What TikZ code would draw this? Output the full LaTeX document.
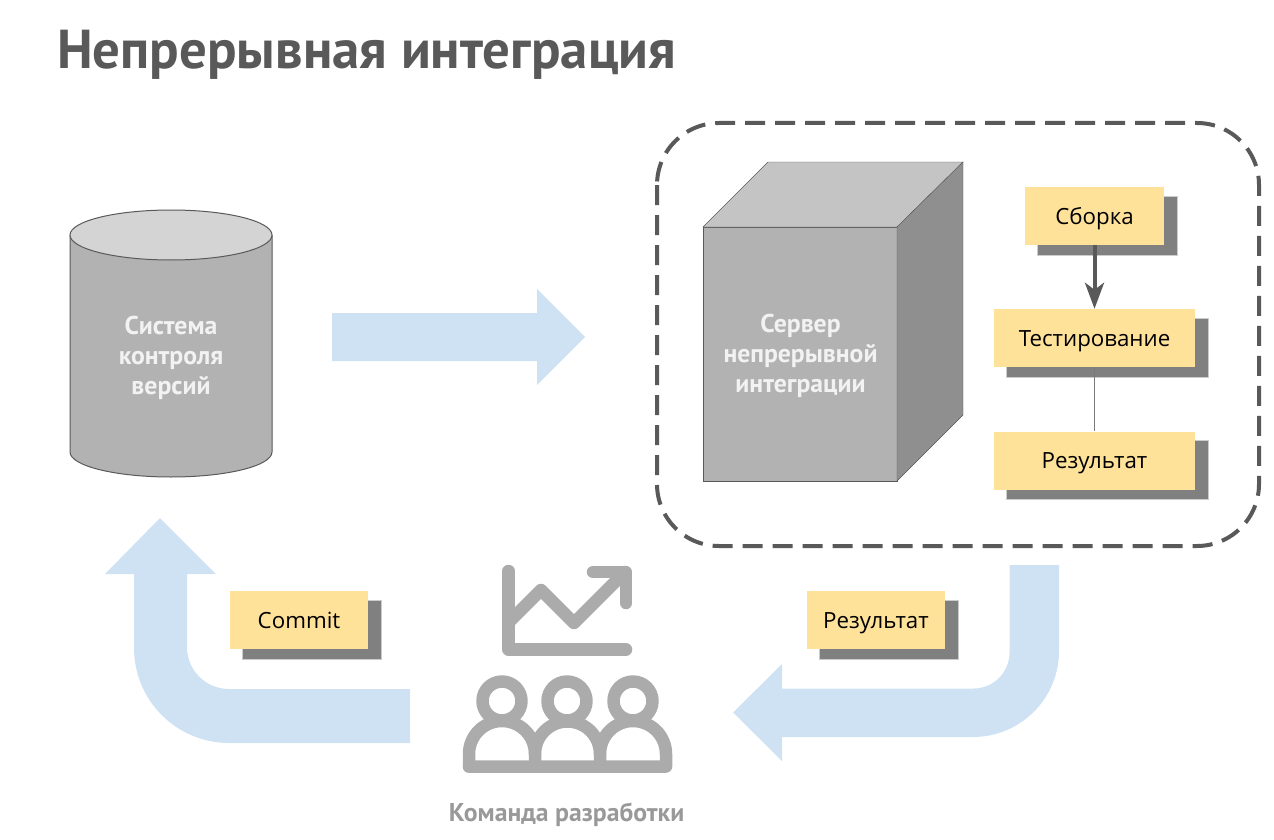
\documentclass[tikz,border=0pt]{standalone}
\usepackage{fontspec}
\setmainfont{Open Sans}
\newfontfamily\headfont{PT Sans}
\usepackage{xcolor}
\usetikzlibrary{arrows.meta, shadows}

\definecolor{edgegray}{HTML}{595959}
\definecolor{flowblue}{HTML}{CFE2F3}
\definecolor{notefill}{HTML}{FFE299}
\definecolor{icongray}{HTML}{ABABAB}
\definecolor{shadowgray}{HTML}{808080}

\tikzset{
  note/.style={fill=notefill, inner sep=0pt, minimum height=58pt,
    text height=18pt, text depth=2pt,
    font=\fontsize{22.3}{26}\selectfont,
    general shadow={shadow xshift=13pt, shadow yshift=-9.5pt, fill=shadowgray,
      draw=shadowgray, draw opacity=.4, line width=2pt}},
  flow/.style={fill=flowblue},
  shapelabel/.style={font=\fontsize{25.7}{30}\selectfont\headfont\bfseries, text=white!95!black, align=center},
  icon/.style={draw=icongray, line width=12.5pt, line cap=round, line join=round}
}

\begin{document}
\begin{tikzpicture}[x=1pt, y=-1pt]
        \useasboundingbox (0,0) rectangle (1274,840);
        % Title
        \node[anchor=base west, inner sep=0pt, text=edgegray, font=\fontsize{54.8}{58}\selectfont\headfont\bfseries] (title) at (57,69) {Непрерывная интеграция};
        % Version control cylinder
        \draw[edgegray, fill=black!30, line width=1pt] (70,235) -- (70,452) arc[start angle=180, end angle=0, x radius=101, y radius=25] -- (272,235);
        \draw[edgegray, fill=black!17, line width=1pt] (171,235) ellipse[x radius=101, y radius=25];
        \node[shapelabel] (vcs) at (171,358) {Система\\контроля\\версий};
        % Server cube
        \draw[edgegray, fill=black!30] (703,227) rectangle (897,481);
        \draw[edgegray, fill=black!23] (703,227) -- (768,162) -- (963,162) -- (897,227) -- cycle;
        \draw[edgegray, fill=black!44] (897,227) -- (963,162) -- (963,415) -- (897,481) -- cycle;
        \node[shapelabel] (server) at (800.5,356) {Сервер\\непрерывной\\интеграции};
        % Dashed frame
        \draw[edgegray, line width=4pt, dash pattern=on 20pt off 10pt, rounded corners=62pt] (657,123) rectangle (1259,546);
        % Pipeline steps
        \node[note, minimum width=139pt] (build) at (1094.5,216) {Сборка};
        \node[note, minimum width=201pt] (tests) at (1094.5,338) {Тестирование};
        \node[note, minimum width=201pt] (result) at (1094.5,460.5) {Результат};
        \draw[edgegray, line width=4pt, -{Stealth[length=26pt, width=19pt, inset=7pt]}] (build) -- (tests);
        \draw[edgegray!80, line width=1.2pt] (tests) -- (result);
        % Big flow arrows
        \fill[flow] (332,313) -- (537,313) -- (537,289) -- (585,337) -- (537,385) -- (537,361) -- (332,361) -- cycle;
        \fill[flow] (410,689) -- (229,689) arc[start angle=90, end angle=180, radius=42] -- (187,574) -- (216,574) -- (160,518) -- (105,574) -- (134,574) -- (134,648) arc[start angle=180, end angle=90, radius=95] -- (410,743) -- cycle;
        \fill[flow] (1009.5,565) -- (1059,565) -- (1059,651) arc[start angle=0, end angle=90, radius=86] -- (782,737) -- (782,761) -- (733,712.5) -- (782,664) -- (782,688.5) -- (973.5,688.5) arc[start angle=90, end angle=0, radius=36] -- cycle;
        \node[note, minimum width=138pt] (commit) at (299,620) {Commit};
        \node[note, minimum width=138pt] (feedback) at (876,620) {Результат};
        % Team icon
        \draw[icon] (508.5,571) -- (508.5,649.5) -- (626,649.5);
        \draw[icon] (508.5,622.5) -- (541,590) -- (574,623) -- (625,572);
        \draw[icon] (593,572) -- (626,572) -- (626,603);
        \foreach \x in {502,567,633} {\draw[icon] (\x,701) circle[radius=19.5];}
        \draw[icon] (469,766.5) -- (469,754) arc[start angle=180, end angle=360, radius=33] -- (535,766.5);
        \draw[icon] (535,754) arc[start angle=180, end angle=360, radius=32.5] -- (600,766.5);
        \draw[icon] (600,754) arc[start angle=180, end angle=360, radius=33] -- (666,766.5) -- (469,766.5);
        \node[text=black!40, font=\fontsize{25.7}{28}\selectfont\headfont\bfseries] (team) at (566.5,814.5) {Команда разработки};
      \end{tikzpicture}
\end{document}
